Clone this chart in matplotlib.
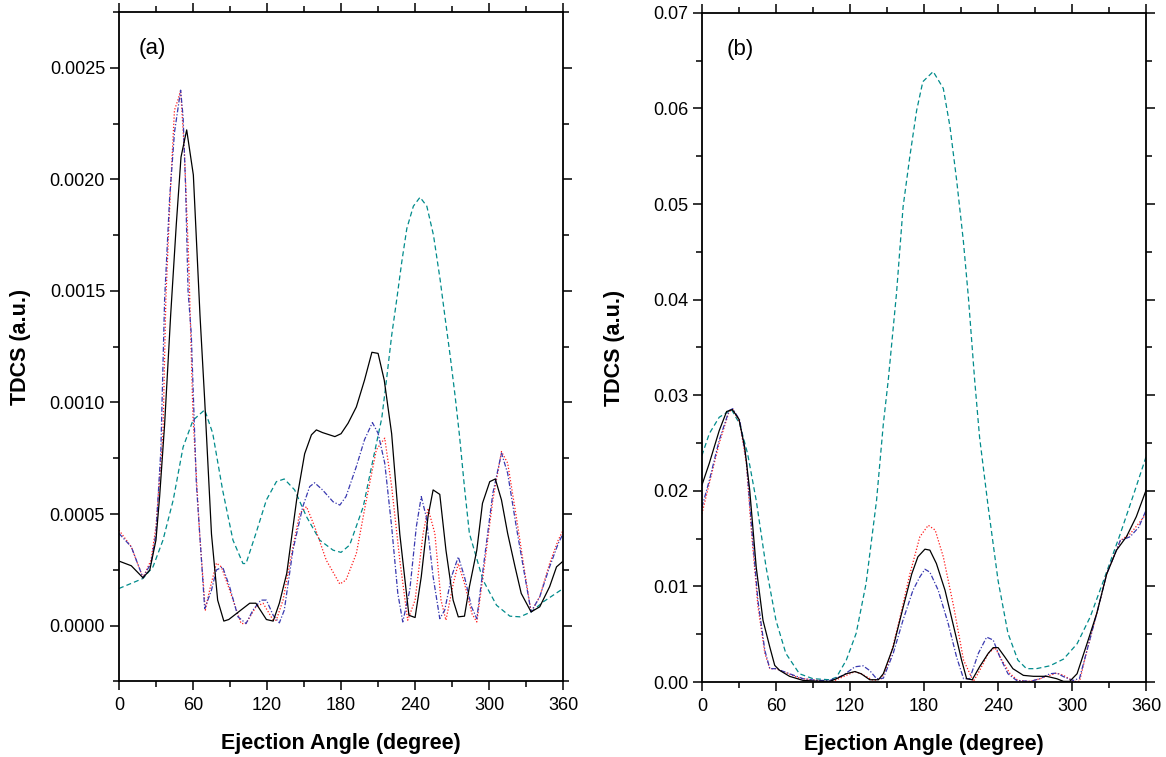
"""TDCS versus ejection angle, panels (a) and (b)."""

import matplotlib
matplotlib.use("Agg")
import matplotlib.pyplot as plt
from matplotlib.ticker import MultipleLocator, FormatStrFormatter

plt.rcParams["font.family"] = ["Liberation Sans", "DejaVu Sans"]

# ---------- panel (a) ----------
a_black_x = [0, 10, 19.5, 25, 30, 33, 37, 41.9, 46.5, 50.3, 54.9, 60.3, 65.7, 69.5, 75, 80,
             85, 89, 106, 111, 119.5, 125, 130, 136, 144, 150.5, 156, 160, 165, 175, 180, 185.7,
             192.4, 199, 205, 210, 215, 221, 227.6, 235, 240, 245, 250.5, 254.6, 260, 265, 270.8,
             275, 280, 284, 290, 294.6, 300.5, 305, 310, 315, 321, 326, 334, 341, 349, 354.6, 360]
a_black_y = [0.000289, 0.000268, 0.000214, 0.000249, 0.000383, 0.00058, 0.00090, 0.00139,
             0.00180, 0.00210, 0.002222, 0.00202, 0.00139, 0.00101, 0.00041, 0.000114,
             0.00002, 0.000027, 0.0001, 0.0001, 0.000027, 0.00002, 0.0001, 0.000234, 0.000563,
             0.00077, 0.000855, 0.000877, 0.000865, 0.000847, 0.00086, 0.000907, 0.00098, 0.0011,
             0.001225, 0.00122, 0.0011, 0.00086, 0.00041, 0.000046, 0.000036, 0.000219, 0.00049,
             0.000608, 0.000588, 0.000338, 0.000114, 0.000039, 0.000042, 0.000174, 0.000338,
             0.000548, 0.000645, 0.000657, 0.000563, 0.000413, 0.000263, 0.000144, 0.000061,
             0.000084, 0.000174, 0.000263, 0.000289]

a_red_x = [0, 10, 19.5, 26, 30, 35.7, 38, 41.6, 45, 48, 50, 53, 56.5, 60, 65.4, 70, 73.5, 79, 83,
           89.7, 99, 103, 111, 116.8, 125, 127.5, 133, 140, 146.5, 152, 158.6, 168, 179, 184,
           192.4, 200.5, 208.6, 215.4, 221, 227.6, 234, 240, 246.5, 250.5, 256, 261, 265, 271,
           275, 280, 286, 290, 295, 303, 310, 315, 322, 329, 334, 341, 349, 356, 360]
a_red_y = [0.000428, 0.000353, 0.000214, 0.000293, 0.000443, 0.00086, 0.00146, 0.00194, 0.00231,
           0.00236, 0.00240, 0.00213, 0.00164, 0.00094, 0.00041, 0.000069, 0.000159, 0.00028,
           0.000263, 0.000159, 0.000009, 0.000009, 0.000084, 0.0001, 0.000024, 0.000024, 0.000114,
           0.000323, 0.000503, 0.000533, 0.000443, 0.000293, 0.000186, 0.000204, 0.000323,
           0.000563, 0.000788, 0.00084, 0.000623, 0.000293, 0.000024, 0.000114, 0.000413,
           0.000525, 0.000413, 0.000114, 0.000024, 0.000189, 0.000278, 0.000189, 0.000054,
           0.000016, 0.000219, 0.000563, 0.00078, 0.000728, 0.000488, 0.000234, 0.000061,
           0.000129, 0.000278, 0.000383, 0.000428]

a_blue_x = [0, 10, 19.5, 26, 30, 34, 37, 41, 45, 50, 52, 54, 56, 58.6, 62.7, 69.5, 75, 79, 84,
            89.7, 96.5, 103, 108.6, 115, 119.5, 125, 130, 134, 141, 149, 154.6, 158.6, 165, 173.5,
            179, 184, 192.4, 199, 205.4, 210, 215.4, 221, 226, 230, 235.7, 241, 245, 249, 254.6,
            260, 264, 269.5, 275, 280, 285.7, 290, 295, 303, 310, 315, 322, 329, 334, 341, 349,
            356, 360]
a_blue_y = [0.000413, 0.000353, 0.000214, 0.000280, 0.000413, 0.00079, 0.00146, 0.00191, 0.00221,
            0.00240, 0.00228, 0.00197, 0.00150, 0.00131, 0.00064, 0.000076, 0.000159, 0.000249,
            0.000263, 0.000174, 0.000039, 0.000009, 0.000069, 0.000114, 0.000114, 0.000046,
            0.000012, 0.000069, 0.000338, 0.000533, 0.000623, 0.00064, 0.000608, 0.000555,
            0.00054, 0.000578, 0.000713, 0.000833, 0.00091, 0.000862, 0.000728, 0.000443,
            0.000144, 0.000016, 0.000159, 0.000443, 0.000578, 0.000488, 0.000219, 0.000031,
            0.000069, 0.000219, 0.000308, 0.000219, 0.000084, 0.000031, 0.000249, 0.000593,
            0.000773, 0.000683, 0.000443, 0.000219, 0.000061, 0.000129, 0.000263, 0.000368,
            0.000413]

a_teal_x = [0, 10, 19.5, 27.6, 35.7, 44, 52, 60, 69.5, 76, 84, 92.4, 100.5, 103, 111, 119.5,
            127.6, 134, 142.4, 152, 162.7, 173.5, 180, 187, 198, 205, 213, 217, 221, 225.2, 229.2,
            233.3, 238.6, 244, 249.5, 254.9, 260.3, 264.3, 268.4, 272.4, 276, 280, 284, 295, 306,
            316.8, 325, 334, 343.8, 360]
a_teal_y = [0.000166, 0.000189, 0.000211, 0.000263, 0.000383, 0.000563, 0.0008, 0.00092,
            0.000967, 0.000862, 0.000608, 0.000383, 0.000278, 0.000278, 0.000413, 0.000563,
            0.000645, 0.000657, 0.000608, 0.000488, 0.000383, 0.000338, 0.000328, 0.000361,
            0.000533, 0.00072, 0.00093, 0.00111, 0.00130, 0.001465, 0.00163, 0.00178, 0.00188,
            0.00192, 0.00188, 0.00175, 0.00155, 0.00138, 0.00121, 0.00103, 0.00085, 0.00062,
            0.000413, 0.000204, 0.000091, 0.000042, 0.000039, 0.000061, 0.000106, 0.000166]

# ---------- panel (b) ----------
b_black_x = [0, 6, 14, 20, 24.6, 30, 34.6, 38.7, 44, 49.5, 55, 59, 63, 71, 82, 93, 103.6, 109, 117,
             124, 129, 136, 143, 147, 155, 163, 170, 175, 180.7, 184.7, 190, 197, 204, 210.4,
             214.5, 219, 225, 232, 236, 240, 245.6, 252, 260.5, 268.6, 279.4, 287.5, 293, 298, 304,
             312, 320, 328, 336, 344, 352, 360]
b_black_y = [0.0206, 0.0229, 0.0263, 0.0283, 0.0285, 0.0275, 0.0246, 0.0201, 0.0120, 0.00645,
             0.00366, 0.00174, 0.00122, 0.0006, 0.00017, 0.0001, 0.00007, 0.00035, 0.00087, 0.0011,
             0.00087, 0.00024, 0.00024, 0.00087, 0.00366, 0.0078, 0.0113, 0.0131, 0.0139, 0.0138,
             0.0124, 0.0096, 0.0058, 0.0023, 0.00035, 0.00024, 0.0016, 0.0030, 0.0036, 0.0036,
             0.0026, 0.0014, 0.0007, 0.0006, 0.0006, 0.00035, 0.00007, 0.00007, 0.00087, 0.0040,
             0.0072, 0.0113, 0.0138, 0.0152, 0.0173, 0.0201]

b_red_x = [0, 6, 14, 22, 25, 30.6, 36, 40, 45.4, 51, 55, 60, 68, 79, 90, 101, 106, 117, 124, 129,
           139, 145.5, 152, 160, 168.5, 176.6, 183.4, 189, 195.6, 204, 212, 220, 225, 232, 237.5,
           243, 249.7, 256, 266, 274, 282, 287.5, 293, 301, 306, 312, 320, 328, 339, 347, 354, 360]
b_red_y = [0.0176, 0.0208, 0.0250, 0.0283, 0.0285, 0.0272, 0.0229, 0.0159, 0.0079, 0.0030,
           0.0014, 0.0014, 0.0010, 0.0004, 0.00024, 0.00007, 0.00007, 0.0007, 0.0011, 0.00087,
           0.00017, 0.00035, 0.0023, 0.0065, 0.0113, 0.0152, 0.0164, 0.0159, 0.0131, 0.0079,
           0.0023, 0.00007, 0.0012, 0.0030, 0.0036, 0.0023, 0.00087, 0.00017, 0.00007, 0.00035,
           0.0007, 0.00094, 0.0007, 0.00007, 0.00007, 0.0033, 0.0072, 0.0113, 0.0148, 0.0155,
           0.0166, 0.0176]

b_blue_x = [0, 6, 14, 22, 25, 30.6, 36, 40, 45.4, 51, 55, 60, 71, 82, 93, 103.6, 114.4, 124,
            130.6, 136, 141.5, 147, 155, 163, 171, 176.6, 180.7, 184.7, 191.5, 199.6, 206.4, 212,
            217, 224, 230.7, 236, 241.5, 248, 255, 266, 274, 282, 287.5, 294, 301, 306, 312, 320,
            328, 339, 347, 354, 360]
b_blue_y = [0.0183, 0.0211, 0.0253, 0.0284, 0.0286, 0.0274, 0.0232, 0.0166, 0.0085, 0.0033,
            0.0014, 0.0014, 0.00087, 0.00035, 0.00017, 0.00017, 0.0007, 0.0016, 0.0017, 0.0012,
            0.00035, 0.0004, 0.0030, 0.0065, 0.0096, 0.0110, 0.0118, 0.0115, 0.0096, 0.0061,
            0.0026, 0.00035, 0.00035, 0.0030, 0.0047, 0.0044, 0.0026, 0.00087, 0.00017, 0.00007,
            0.00035, 0.00087, 0.00094, 0.0005, 0.00017, 0.0004, 0.0033, 0.0072, 0.0113, 0.0148,
            0.0152, 0.0162, 0.0180]

b_teal_x = [0, 6, 14, 24, 30.6, 37, 44, 52, 60, 68, 79, 90, 103.6, 109, 117, 125, 133, 141.5, 147,
            151, 157.7, 163, 168.5, 174, 179, 187.4, 195.6, 201, 206.4, 211.8, 215.9, 221, 225,
            232, 240, 248, 256, 263, 271, 282, 293, 304, 314.6, 325.4, 339, 350, 360]
b_teal_y = [0.0237, 0.0260, 0.0277, 0.0285, 0.0270, 0.0239, 0.0190, 0.0120, 0.00645, 0.0030,
            0.00087, 0.00035, 0.00024, 0.0005, 0.0023, 0.0051, 0.0103, 0.0190, 0.0270, 0.0316,
            0.0407, 0.0497, 0.0550, 0.0598, 0.0628, 0.06386, 0.0621, 0.0581, 0.0525, 0.0462,
            0.0403, 0.0316, 0.0256, 0.0183, 0.0106, 0.0051, 0.0023, 0.0014, 0.0014, 0.0017, 0.0024,
            0.0040, 0.0068, 0.0106, 0.0155, 0.0197, 0.0236]

STYLES = {
    "black": dict(color="black", linestyle="-", linewidth=0.9),
    "red": dict(color="#ff1a1a", linestyle=(0, (1, 1.5)), linewidth=0.9),
    "blue": dict(color="#3a3ab0", linestyle=(0, (4, 1.5, 1, 1.5)), linewidth=0.9),
    "teal": dict(color="#008b8b", linestyle=(0, (4, 2.5)), linewidth=0.9),
}


def style_axes(ax, ymajor, yminor, fmt, ylab_x):
    ax.set_xlim(0, 360)
    ax.xaxis.set_major_locator(MultipleLocator(60))
    ax.xaxis.set_minor_locator(MultipleLocator(30))
    ax.yaxis.set_major_locator(MultipleLocator(ymajor))
    ax.yaxis.set_minor_locator(MultipleLocator(yminor))
    ax.yaxis.set_major_formatter(FormatStrFormatter(fmt))
    ax.tick_params(which="both", direction="out", top=True, right=True, width=1.1)
    ax.tick_params(which="major", length=6.5)
    ax.tick_params(which="minor", length=4)
    ax.tick_params(axis="both", labelsize=13)
    ax.tick_params(axis="x", pad=5)
    for sp in ax.spines.values():
        sp.set_linewidth(1.3)
    ax.set_xlabel("Ejection Angle (degree)", fontsize=15.5, fontweight="bold")
    ax.set_ylabel("TDCS (a.u.)", fontsize=15.5, fontweight="bold")
    ax.xaxis.set_label_coords(0.5, -0.077)
    ax.yaxis.set_label_coords(ylab_x, 0.5)


fig = plt.figure(figsize=(11.66, 7.57), dpi=100)
ax_a = fig.add_axes([0.102, 0.100, 0.381, 0.884])
ax_b = fig.add_axes([0.602, 0.099, 0.381, 0.884])

ax_a.plot(a_teal_x, a_teal_y, **STYLES["teal"])
ax_a.plot(a_red_x, a_red_y, **STYLES["red"])
ax_a.plot(a_blue_x, a_blue_y, **STYLES["blue"])
ax_a.plot(a_black_x, a_black_y, **STYLES["black"])
ax_a.set_ylim(-0.00025, 0.00275)
style_axes(ax_a, 0.0005, 0.00025, "%.4f", -0.198)
ax_a.text(0.045, 0.945, "(a)", transform=ax_a.transAxes, fontsize=16, va="center")

ax_b.plot(b_teal_x, b_teal_y, **STYLES["teal"])
ax_b.plot(b_red_x, b_red_y, **STYLES["red"])
ax_b.plot(b_blue_x, b_blue_y, **STYLES["blue"])
ax_b.plot(b_black_x, b_black_y, **STYLES["black"])
ax_b.set_ylim(0, 0.07)
style_axes(ax_b, 0.01, 0.005, "%.2f", -0.173)
ax_b.text(0.055, 0.945, "(b)", transform=ax_b.transAxes, fontsize=16, va="center")

fig.savefig("out.png", dpi=100)
